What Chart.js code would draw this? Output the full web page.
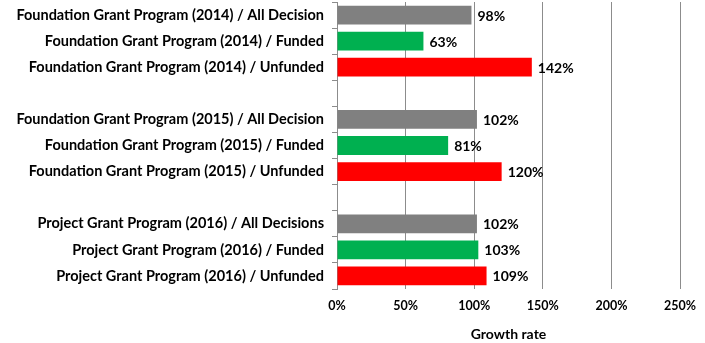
<!DOCTYPE html>
<html>
<head>
<meta charset="utf-8">
<script src="https://cdn.jsdelivr.net/npm/chart.js@4"></script>
<style>
html,body{margin:0;padding:0;background:#fff;}
#c{display:block;}
</style>
</head>
<body>
<canvas id="c" width="705" height="343"></canvas>
<script>
const categories = [
  "Foundation Grant Program (2014) / All Decision",
  "Foundation Grant Program (2014) / Funded",
  "Foundation Grant Program (2014) / Unfunded",
  "",
  "Foundation Grant Program (2015) / All Decision",
  "Foundation Grant Program (2015) / Funded",
  "Foundation Grant Program (2015) / Unfunded",
  "",
  "Project Grant Program (2016) / All Decisions",
  "Project Grant Program (2016) / Funded",
  "Project Grant Program (2016) / Unfunded"
];
const growthRate = [98, 63, 142, null, 102, 81, 120, null, 102, 103, 109];
const barColors = ["#808080","#00B050","#FF0000",null,"#808080","#00B050","#FF0000",null,"#808080","#00B050","#FF0000"];
const xTicks = [0, 50, 100, 150, 200, 250];
const xTitle = "Growth rate";

const FONT = "Lato, 'Open Sans', sans-serif";

const valueLabels = {
  id: 'valueLabels',
  afterDatasetsDraw(chart) {
    const ctx = chart.ctx;
    const meta = chart.getDatasetMeta(0);
    ctx.save();
    ctx.font = "bold 14px " + FONT;
    ctx.fillStyle = "#000";
    ctx.textBaseline = "middle";
    ctx.textAlign = "left";
    meta.data.forEach((bar, i) => {
      const v = growthRate[i];
      if (v === null || v === undefined) return;
      ctx.fillText(v + "%", bar.x + 6, bar.y + 1);
    });
    ctx.restore();
  }
};

new Chart(document.getElementById('c'), {
  type: 'bar',
  data: {
    labels: categories,
    datasets: [{
      data: growthRate,
      backgroundColor: barColors,
      barPercentage: 0.72,
      categoryPercentage: 1.0
    }]
  },
  options: {
    indexAxis: 'y',
    responsive: false,
    animation: false,
    devicePixelRatio: 1,
    layout: { padding: { top: 2, right: 23, left: 0, bottom: 0 } },
    plugins: { legend: { display: false }, tooltip: { enabled: false } },
    scales: {
      y: {
        type: 'category',
        grid: { drawOnChartArea: false, offset: true, tickLength: 5, color: '#8c8c8c' },
        border: { color: '#8c8c8c' },
        ticks: { color: '#000', font: { family: FONT, size: 14.5, weight: 'bold' }, padding: 8, autoSkip: false },
        afterFit(scale) { scale.width = 337; scale.paddingTop = 0; scale.paddingBottom = 0; }
      },
      x: {
        min: 0, max: 250,
        afterBuildTicks(scale) { scale.ticks = xTicks.map(v => ({ value: v })); },
        grid: { color: '#8c8c8c', tickLength: 0 },
        border: { display: false },
        ticks: { color: '#000', font: { family: FONT, size: 12.5, weight: 'bold' }, padding: 9, callback: v => v + '%' },
        title: { display: true, text: xTitle, color: '#000', font: { family: FONT, size: 14, weight: 'bold' }, padding: { top: 9, bottom: 0 } },
        afterFit(scale) { scale.height = 54; }
      }
    }
  },
  plugins: [valueLabels]
});
</script>
</body>
</html>
